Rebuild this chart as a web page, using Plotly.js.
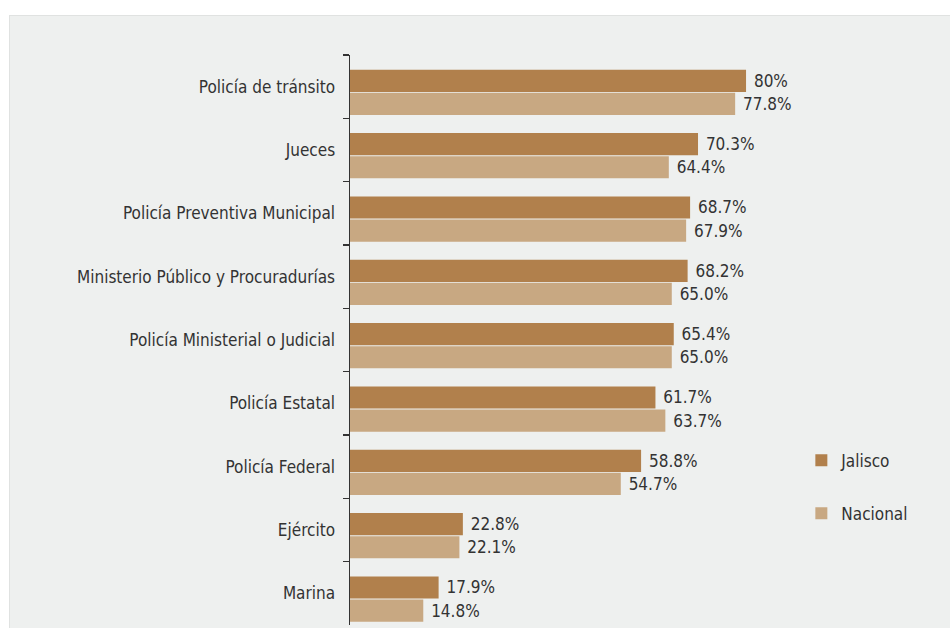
<!DOCTYPE html>
<html>
<head>
<meta charset="utf-8">
<script src="https://cdn.plot.ly/plotly-3.0.1.min.js"></script>
<style>
  html, body { margin: 0; padding: 0; background: #ffffff; }
  #chart { position: absolute; left: 9px; top: 15px; width: 940px; height: 612px;
           border-top: 1px solid #e0e2e1; border-left: 1px solid #e0e2e1; }
</style>
</head>
<body>
<div id="chart"></div>
<script>
const categories = [
  "Policía de tránsito",
  "Jueces",
  "Policía Preventiva Municipal",
  "Ministerio Público y Procuradurías",
  "Policía Ministerial o Judicial",
  "Policía Estatal",
  "Policía Federal",
  "Ejército",
  "Marina"
];
const jalisco = [80, 70.3, 68.7, 68.2, 65.4, 61.7, 58.8, 22.8, 17.9];
const nacional = [77.8, 64.4, 67.9, 65.0, 65.0, 63.7, 54.7, 22.1, 14.8];
const jaliscoLabels = ["80%", "70.3%", "68.7%", "68.2%", "65.4%", "61.7%", "58.8%", "22.8%", "17.9%"];
const nacionalLabels = ["77.8%", "64.4%", "67.9%", "65.0%", "65.0%", "63.7%", "54.7%", "22.1%", "14.8%"];

const FONT = "'Liberation Sans Narrow', 'DejaVu Sans Condensed', 'Roboto', sans-serif";
const N = categories.length;
const SHIFT = 0.09; // bars sit slightly below the category centre

const traces = [
  {
    // carries the category axis (labels + boundary ticks)
    type: "scatter", mode: "none", y: categories, x: categories.map(() => null),
    xaxis: "x", yaxis: "y", showlegend: false, hoverinfo: "none"
  },
  {
    type: "bar", orientation: "h", name: "Jalisco",
    y: categories, x: jalisco, text: jaliscoLabels,
    texttemplate: "\u00a0%{text}",
    textposition: "outside", cliponaxis: false,
    textfont: { family: FONT, size: 17, color: "#333333" },
    marker: { color: "#b1804c" },
    xaxis: "x", yaxis: "y2",
    legendgroup: "a", hoverinfo: "none"
  },
  {
    type: "bar", orientation: "h", name: "Nacional",
    y: categories, x: nacional, text: nacionalLabels,
    texttemplate: "\u00a0%{text}",
    textposition: "outside", cliponaxis: false,
    textfont: { family: FONT, size: 17, color: "#333333" },
    marker: { color: "#c8a882" },
    xaxis: "x", yaxis: "y2",
    legendgroup: "b", hoverinfo: "none"
  }
];

const layout = {
  width: 940, height: 612,
  margin: { l: 340, r: 150, t: 39, b: 3, pad: 0 },
  paper_bgcolor: "#eef0ef",
  plot_bgcolor: "#eef0ef",
  font: { family: FONT, size: 17, color: "#333333" },
  barmode: "group",
  bargap: 0.27,
  bargroupgap: 0.04,
  xaxis: {
    range: [0, 90.9], visible: false, fixedrange: true
  },
  yaxis: {
    type: "category",
    categoryorder: "array", categoryarray: categories,
    range: [N - 0.5, -0.5],
    showline: true, linecolor: "#333333", linewidth: 1.5,
    ticks: "outside", tickson: "boundaries", ticklen: 6, tickwidth: 1.5, tickcolor: "#333333",
    showgrid: false, zeroline: false,
    ticklabelstandoff: 10,
    tickfont: { family: FONT, size: 17, color: "#333333" }
  },
  yaxis2: {
    type: "category",
    categoryorder: "array", categoryarray: categories,
    overlaying: "y",
    range: [N - 0.5 - SHIFT, -0.5 - SHIFT],
    visible: false, showgrid: false, zeroline: false
  },
  showlegend: true,
  legend: {
    x: 1.003, xanchor: "left",
    y: 0.32, yanchor: "top",
    bgcolor: "rgba(0,0,0,0)",
    traceorder: "grouped",
    tracegroupgap: 28,
    font: { family: FONT, size: 17, color: "#333333" }
  }
};

Plotly.newPlot("chart", traces, layout, { displayModeBar: false, staticPlot: true });
</script>
</body>
</html>
